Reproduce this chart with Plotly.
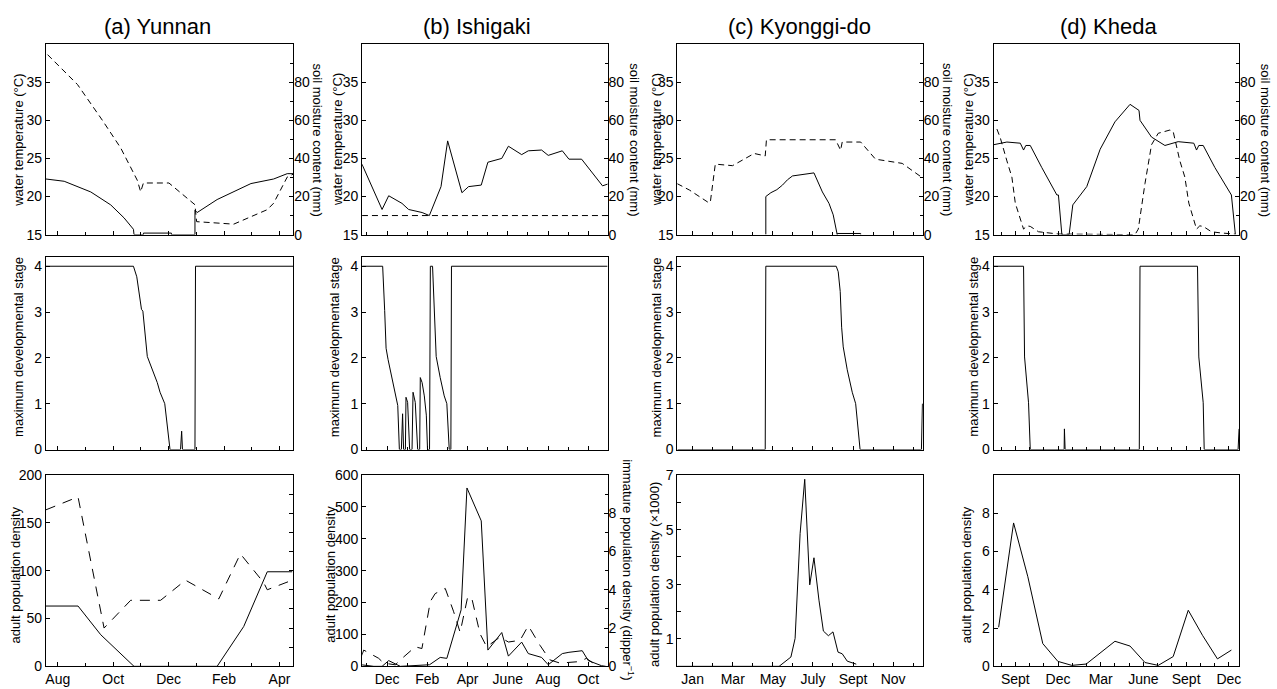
import plotly.graph_objects as go

# ---------------- data (x in months; each column has its own month origin) ----------------
# (a) Yunnan : 0 = Aug
a_temp_x = [-0.43, 0.23, 1.19, 1.91, 2.39, 2.73, 2.75, 3.09, 3.09, 4.10, 4.10, 4.95, 4.95, 5.03, 5.75, 6.23, 6.97, 7.79, 8.28, 8.52]
a_temp_y = [22.3, 22.0, 20.6, 18.9, 17.2, 15.7, 15.0, 15.0, 15.2, 15.2, 15.0, 15.0, 18.2, 17.9, 19.6, 20.4, 21.7, 22.3, 23.0, 23.0]
a_moist_x = [-0.37, 0.71, 1.61, 2.27, 2.87, 2.99, 3.09, 4.01, 4.95, 5.01, 6.35, 7.56, 7.79, 8.28, 8.52]
a_moist_y = [94.5, 78.8, 60.0, 45.5, 28.5, 22.5, 27.1, 27.1, 15.7, 6.8, 5.5, 13.1, 16.5, 30.2, 31.9]
a_stage_x = [-0.43, 2.73, 2.85, 2.93, 3.02, 3.07, 3.23, 3.59, 3.69, 3.86, 4.05, 4.43, 4.47, 4.50, 4.95, 4.97, 8.52]
a_stage_y = [4, 4, 3.77, 3.38, 3.06, 3.02, 2.03, 1.46, 1.25, 1.0, 0, 0, 0.4, 0, 0, 4, 4]
a_adult_x = [-0.43, 0.73, 1.55, 2.75, 5.75, 6.71, 7.56, 8.46]
a_adult_y = [63, 63, 33, 0, 0, 41.6, 98.8, 98.8]
a_imm_x = [-0.43, 0.73, 1.67, 2.63, 3.71, 4.61, 5.81, 6.59, 7.43, 7.56, 8.46]
a_imm_y = [163.5, 177, 40, 69, 69, 90, 70.5, 117.5, 87.5, 80, 90]

# (b) Ishigaki : 0 = Dec
b_temp_x = [-1.25, -0.25, 0.08, 0.74, 1.07, 1.74, 2.10, 2.68, 3.01, 3.72, 4.05, 4.68, 5.01, 5.70, 6.03, 6.69, 7.02, 7.68, 8.01, 8.71, 9.04, 9.67, 10.71, 11.04]
b_temp_y = [24.25, 18.3, 20.1, 19.1, 18.3, 17.9, 17.5, 21.3, 27.3, 20.5, 21.3, 21.5, 24.5, 25.0, 26.6, 25.5, 26.0, 26.1, 25.4, 26.0, 24.9, 24.9, 21.4, 21.7]
b_moist_x = [-1.25, 11.04]
b_moist_y = [10, 10]
b_stage_x = [-1.24, -0.22, -0.12, -0.05, 0.05, 0.25, 0.36, 0.53, 0.61, 0.71, 0.77, 0.82, 0.91, 0.94, 1.02, 1.12,
             1.24, 1.29, 1.40, 1.52, 1.62, 1.65, 1.74, 1.85, 1.95, 2.01, 2.11, 2.15, 2.26, 2.36, 2.44, 2.64,
             2.84, 2.97, 3.09, 3.17, 3.20, 10.96]
b_stage_y = [4, 4, 3.03, 2.21, 1.96, 1.53, 1.32, 0.96, 0, 0, 0.78, 0, 0, 1.14, 1.03, 0,
             0, 1.25, 1.03, 0, 0, 1.57, 1.46, 1.17, 0.75, 0, 0, 4, 4, 3.03, 2.03, 1.57,
             1.17, 1.0, 0, 0, 4, 4]
b_adult_x = [-1.29, -0.66, -0.25, 0.08, 0.66, 1.49, 2.11, 2.64, 2.97, 3.68, 3.97, 4.68, 5.01, 5.70, 6.03, 6.69, 7.02, 7.68, 8.01, 8.71, 9.04, 9.70, 10.0, 10.66, 10.87]
b_adult_y = [5, 0, 0, 18, 0, 2, 5, 28, 25, 177, 559, 456, 51, 106, 32, 76, 40, 28, 5, 40, 44, 49, 18, 2, 0]
b_imm_x = [-1.29, -1.16, -0.42, -0.17, 0.41, 0.66, 1.40, 1.73, 2.15, 2.39, 2.89, 3.30, 3.63, 4.01, 4.21, 4.62, 4.95, 5.61, 6.03, 6.61, 7.02, 7.60, 8.09, 8.59, 9.58, 9.91, 10.24]
b_imm_y = [0.5, 0.85, 0.42, 0.17, 0.08, 0.34, 1.02, 0.93, 3.39, 3.8, 4.07, 2.88, 1.78, 3.64, 3.56, 1.7, 1.02, 1.53, 1.27, 1.36, 2.12, 1.1, 0.34, 0.17, 0.25, 0.42, 0.17]

# (c) Kyonggi-do : 0 = Jan
c_temp_x = [3.65, 3.65, 3.9, 4.2, 4.48, 4.73, 4.98, 6.05, 6.47, 6.8, 7.01, 7.21, 7.21, 8.38, 8.38]
c_temp_y = [15, 20, 20.5, 20.9, 21.5, 22.2, 22.7, 23.1, 20.6, 19.1, 17.6, 15, 15.15, 15.15, 15]
c_moist_x = [-0.78, -0.16, 0.75, 0.88, 1.13, 1.99, 3.07, 3.62, 3.68, 7.13, 7.38, 7.46, 8.38, 9.12, 10.45, 11.53]
c_moist_y = [26.8, 23.4, 17.1, 16.9, 37, 36.2, 42.6, 41.3, 49.8, 49.8, 44.3, 48.6, 48.6, 39.6, 37.4, 29.3]
c_stage_x = [-0.76, 3.62, 3.65, 7.16, 7.26, 7.36, 7.43, 7.51, 7.71, 7.96, 8.13, 8.35, 11.41, 11.46]
c_stage_y = [0, 0, 4, 4, 3.88, 3.45, 2.67, 2.24, 1.74, 1.25, 1.0, 0, 0, 1.0]
c_adult_x = [-0.76, 4.31, 4.9, 5.11, 5.36, 5.59, 5.84, 6.05, 6.3, 6.52, 6.77, 7.0, 7.25, 7.46, 7.71, 8.16]
c_adult_y = [0, 0, 0.34, 1.02, 4.86, 6.84, 2.98, 3.97, 2.42, 1.29, 1.12, 1.26, 0.52, 0.46, 0.19, 0.08]

# (d) Kheda : 0 = Sept
d_temp_x = [-1.52, -0.59, 0.35, 0.58, 0.74, 1.05, 1.86, 2.92, 3.03, 3.27, 3.78, 4.04, 5.02, 5.96, 7.0, 8.06, 8.69, 8.76,
            9.57, 10.51, 11.44, 12.54, 12.73, 12.89, 13.20, 14.02, 15.18, 15.46]
d_temp_y = [26.8, 27.15, 27.0, 26.1, 26.7, 26.7, 23.8, 20.2, 20.2, 15, 15, 18.9, 21.3, 26.2, 29.8, 32.1, 31.3, 30.0,
            27.8, 26.7, 27.2, 27.0, 26.1, 26.7, 26.7, 23.8, 20.2, 15]
d_moist_x = [-1.29, -1.05, -0.59, -0.24, 0, 0.58, 0.82, 1.05, 1.63, 2.33, 3.03, 8.41, 8.64, 9.11, 9.57, 10.04, 10.86,
             11.09, 11.56, 11.91, 12.19, 12.73, 12.96, 13.2, 13.78, 14.48, 15.42]
d_moist_y = [55.4, 50.7, 38.7, 30.2, 16.5, 2.9, 4.6, 4.3, 1.5, 0.85, 0.3, 0, 2.9, 26.8, 47.2, 53.2, 54.9,
             54.1, 38.7, 30.2, 16.5, 2.9, 4.6, 4.3, 1.5, 0.85, 0.3]
d_stage_x = [-1.52, 0.58, 0.65, 0.93, 1.05, 3.43, 3.45, 3.5, 8.71, 8.76, 12.8, 12.89, 13.2, 13.27, 15.65, 15.72]
d_stage_y = [4, 4, 2.02, 1.02, 0, 0, 0.45, 0, 0, 4, 4, 2.02, 1.02, 0, 0, 0.45]
d_adult_x = [-1.17, -0.12, 0.88, 1.93, 2.99, 3.97, 4.98, 5.96, 7.0, 8.06, 9.11, 10.04, 11.09, 12.15, 13.15, 14.2, 15.18]
d_adult_y = [2.04, 7.49, 4.68, 1.19, 0.26, 0.05, 0.12, 0.68, 1.31, 1.06, 0.2, 0.05, 0.51, 2.93, 1.62, 0.39, 0.85]

# axis labels / ticks
titles = ["(a) Yunnan", "(b) Ishigaki", "(c) Kyonggi-do", "(d) Kheda"]
x_ranges = [[-0.43, 8.5], [-1.24, 10.96], [-0.76, 11.48], [-1.52, 15.72]]
x_tickvals = [[0, 2, 4, 6, 8], [0, 2, 4, 6, 8, 10], [0, 2, 4, 6, 8, 10], [0, 3, 6, 9, 12, 15]]
x_ticktext = [["Aug", "Oct", "Dec", "Feb", "Apr"],
              ["Dec", "Feb", "Apr", "June", "Aug", "Oct"],
              ["Jan", "Mar", "May", "July", "Sept", "Nov"],
              ["Sept", "Dec", "Mar", "June", "Sept", "Dec"]]
temp_ticks = [15, 20, 25, 30, 35]
moist_ticks = [0, 20, 40, 60, 80]
stage_ticks = [0, 1, 2, 3, 4]

# ---------------- figure ----------------
W, H = 1277, 689
FONT = "Liberation Sans, Arial, Helvetica, sans-serif"
col_px = [(45, 293), (362, 608), (678, 924), (995, 1241)]
row_px = [(37, 232), (255, 452), (478, 674)]

fig = go.Figure()


def ax(k):
    return ("x" if k == 1 else f"x{k}"), ("y" if k == 1 else f"y{k}")


def lay(k, kind):
    return (kind + "axis") if k == 1 else f"{kind}axis{k}"


tickfont = dict(family=FONT, size=14, color="black")
common = dict(showline=True, linecolor="black", linewidth=1, mirror=True, ticks="inside",
              ticklen=4, tickcolor="black", showgrid=False, zeroline=False, tickfont=tickfont)


def add_line(k, x, y, dash="solid", yname=None):
    xa, ya = ax(k)
    fig.add_trace(go.Scatter(x=x, y=y, mode="lines", xaxis=xa, yaxis=yname or ya,
                             line=dict(color="black", width=1, dash=dash),
                             showlegend=False, hoverinfo="skip"))


data = [
    (a_temp_x, a_temp_y, a_moist_x, a_moist_y, a_stage_x, a_stage_y, a_adult_x, a_adult_y),
    (b_temp_x, b_temp_y, b_moist_x, b_moist_y, b_stage_x, b_stage_y, b_adult_x, b_adult_y),
    (c_temp_x, c_temp_y, c_moist_x, c_moist_y, c_stage_x, c_stage_y, c_adult_x, c_adult_y),
    (d_temp_x, d_temp_y, d_moist_x, d_moist_y, d_stage_x, d_stage_y, d_adult_x, d_adult_y),
]

layout = {}
ann = []
short_dash = "6px,4px"
long_dash = "10px,8px"

for c in range(4):
    tx, ty, mx, my, sx, sy, px_, py_ = data[c]
    xd = [col_px[c][0] / W, col_px[c][1] / W]
    for r in range(3):
        k = r * 4 + c + 1
        xa, ya = ax(k)
        yd = [1 - row_px[r][1] / H, 1 - row_px[r][0] / H]
        minor_vals = [m for m in range(-2, 18) if x_ranges[c][0] < m < x_ranges[c][1]]
        layout[lay(k, "x")] = dict(common, domain=xd, anchor=ya, range=x_ranges[c],
                                   tickmode="array", tickvals=x_tickvals[c], ticktext=x_ticktext[c],
                                   showticklabels=(r == 2),
                                   minor=dict(tickmode="array", tickvals=minor_vals, ticks="inside",
                                              ticklen=3, tickcolor="black"))
        ydict = dict(common, domain=yd, anchor=xa)
        if r == 0:
            ydict.update(range=[15, 40], tickvals=temp_ticks)
        elif r == 1:
            ydict.update(range=[0, 4.2], tickvals=stage_ticks)
        layout[lay(k, "y")] = ydict

    # top row: temperature + soil moisture (right axis)
    k = c + 1
    add_line(k, tx, ty)
    rk = 13 + c
    layout[lay(rk, "y")] = dict(overlaying=ax(k)[1], side="right", anchor=ax(k)[0], range=[0, 100],
                                tickvals=moist_ticks, ticks="inside", ticklen=4, tickcolor="black",
                                showgrid=False, zeroline=False, showline=False, tickfont=tickfont,
                                minor=dict(tickmode="array", tickvals=[10, 30, 50, 70, 90],
                                           ticks="inside", ticklen=3, tickcolor="black"))
    add_line(k, mx, my, dash=short_dash, yname=f"y{rk}")
    # middle row: stage
    add_line(4 + c + 1, sx, sy)
    # bottom row: adult density
    add_line(8 + c + 1, px_, py_)

# bottom row y axes
layout["yaxis9"].update(range=[0, 200], tickvals=[0, 50, 100, 150, 200])
layout["yaxis10"].update(range=[0, 600], tickvals=[0, 100, 200, 300, 400, 500, 600])
layout["yaxis11"].update(range=[0, 7], tickvals=[1, 3, 5, 7],
                         minor=dict(tickmode="array", tickvals=[2, 4, 6], ticks="inside",
                                    ticklen=4, tickcolor="black"))
layout["yaxis12"].update(range=[0, 10], tickvals=[0, 2, 4, 6, 8])

# (a) bottom: immature (dashed) on an unlabeled right scale
layout["yaxis17"] = dict(overlaying="y9", side="right", anchor="x9", range=[0, 200],
                         tickvals=list(range(20, 200, 20)), ticks="inside", ticklen=4,
                         tickcolor="black", showticklabels=False, showgrid=False,
                         zeroline=False, showline=False)
add_line(9, a_imm_x, a_imm_y, dash=long_dash, yname="y17")

# (b) bottom: immature (dashed) on right axis
layout["yaxis18"] = dict(overlaying="y10", side="right", anchor="x10", range=[0, 10],
                         tickvals=[0, 2, 4, 6, 8], ticks="inside", ticklen=4, tickcolor="black",
                         tickfont=tickfont, showgrid=False, zeroline=False, showline=False,
                         minor=dict(tickmode="array", tickvals=[1, 3, 5, 7, 9], ticks="inside",
                                    ticklen=3, tickcolor="black"))
add_line(10, b_imm_x, b_imm_y, dash=long_dash, yname="y18")

# ---------------- text ----------------
def A(text, xpx, ypx, angle=0, size=13):
    ann.append(dict(text=text, x=xpx / W, y=1 - ypx / H, xref="paper", yref="paper",
                    showarrow=False, textangle=angle, xanchor="center", yanchor="middle",
                    font=dict(family=FONT, size=size, color="black")))


title_x = [157, 477, 800, 1110]
left_x = [[18, 338, 657, 970], [18, 335, 657, 975], [15, 330, 655, 968]]
for c in range(4):
    A(titles[c], title_x[c], 19, size=22)
    A("water temperature (°C)", left_x[0][c], 135, -90)
    A("soil moisture content (mm)", [317, 635, 948, 1267][c], 135, 90)
    A("maximum developmental stage", left_x[1][c], 347, -90)
    A("adult population density (×1000)" if c == 2 else "adult population density",
      left_x[2][c], 580, -90)
A("immature population density (dipper<sup>−1</sup>)", 629, 575, 90)

fig.update_layout(**layout)
fig.update_layout(annotations=ann, width=W, height=H, margin=dict(l=0, r=0, t=0, b=0),
                  paper_bgcolor="white", plot_bgcolor="white", showlegend=False,
                  font=dict(family=FONT, color="black"))

fig.write_html("out.html", config={"displayModeBar": False},
               post_script="document.body.style.margin='0';")
